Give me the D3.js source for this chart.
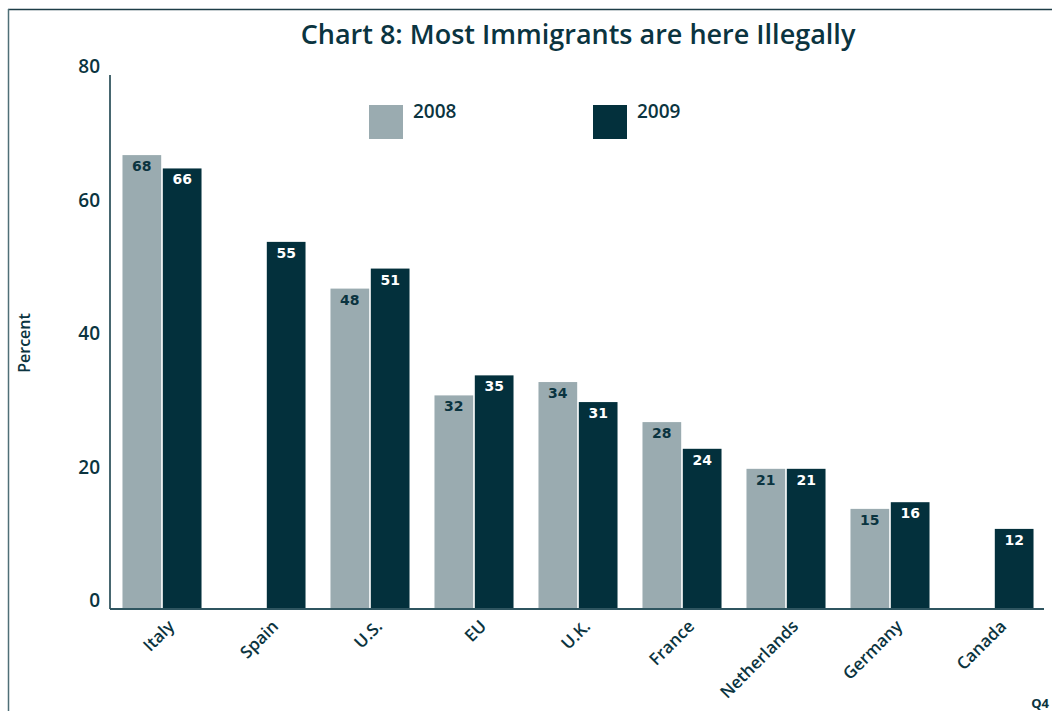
<!DOCTYPE html>
<html>
<head>
<meta charset="utf-8">
<script src="https://cdn.jsdelivr.net/npm/d3@7"></script>
<style>
  body { margin: 0; background: #fff; }
  text { font-family: "Open Sans", sans-serif; fill: #0b3440; }
</style>
</head>
<body>
<div id="chart-area"></div>
<script>
// chart data
const countries = ["Italy", "Spain", "U.S.", "EU", "U.K.", "France", "Netherlands", "Germany", "Canada"];
const years = ["2008", "2009"];
const values2008 = [68, null, 48, 32, 34, 28, 21, 15, null];
const values2009 = [66, 55, 51, 35, 31, 24, 21, 16, 12];
const yTicks = [0, 20, 40, 60, 80];

const colors = {"2008": "#9aabb0", "2009": "#03303c"};
const labelColors = {"2008": "#0b3440", "2009": "#ffffff"};

const W = 1052, H = 711;
const margin = {top: 75, right: 8, bottom: 102, left: 110};

const svg = d3.select("#chart-area").append("svg")
    .attr("width", W)
    .attr("height", H);

// frame lines (top and left)
svg.append("line")
    .attr("x1", 8).attr("x2", W).attr("y1", 9.5).attr("y2", 9.5)
    .attr("stroke", "#1d3d47").attr("stroke-width", 1.5);
svg.append("line")
    .attr("x1", 8.5).attr("x2", 8.5).attr("y1", 9).attr("y2", H)
    .attr("stroke", "#4f6f77").attr("stroke-width", 1.5);

svg.append("text")
    .attr("x", 578)
    .attr("y", 44)
    .attr("text-anchor", "middle")
    .style("font-size", "27px")
    .style("font-weight", 600)
    .text("Chart 8: Most Immigrants are here Illegally");

const g = svg.append("g")
    .attr("transform", "translate(" + margin.left + "," + margin.top + ")");

const width = 936, height = 534;

const x = d3.scaleBand()
    .domain(countries)
    .range([0, width])
    .paddingInner(0.24)
    .paddingOuter(0.12);

const xYear = d3.scaleBand()
    .domain(years)
    .range([0, x.bandwidth()])
    .paddingInner(0.04);

const y = d3.scaleLinear()
    .domain([0, 80])
    .range([height, 0]);

// rows for bars
const rows = [];
countries.forEach((c, i) => {
    rows.push({country: c, year: "2008", value: values2008[i]});
    rows.push({country: c, year: "2009", value: values2009[i]});
});
const bars = rows.filter(d => d.value !== null);

g.selectAll(".bar")
    .data(bars)
    .enter().append("rect")
    .attr("class", "bar")
    .attr("x", d => x(d.country) + xYear(d.year))
    .attr("y", d => y(d.value))
    .attr("width", xYear.bandwidth())
    .attr("height", d => height - y(d.value))
    .attr("fill", d => colors[d.year]);

g.selectAll(".bar-label")
    .data(bars)
    .enter().append("text")
    .attr("class", "bar-label")
    .attr("x", d => x(d.country) + xYear(d.year) + xYear.bandwidth() / 2)
    .attr("y", d => y(d.value) + 16)
    .attr("text-anchor", "middle")
    .style("font-size", "14px")
    .style("font-weight", 700)
    .style("font-family", "DejaVu Sans, sans-serif")
    .style("fill", d => labelColors[d.year])
    .text(d => d.value);

// axes
g.append("line")
    .attr("x1", 0).attr("x2", 0).attr("y1", 0).attr("y2", height)
    .attr("stroke", "#0b3440").attr("stroke-width", 1.5);
g.append("line")
    .attr("x1", 0).attr("x2", 934).attr("y1", height).attr("y2", height)
    .attr("stroke", "#2f5560").attr("stroke-width", 2);

g.selectAll(".y-tick")
    .data(yTicks)
    .enter().append("text")
    .attr("class", "y-tick")
    .attr("x", -10)
    .attr("y", d => y(d) - 2)
    .attr("text-anchor", "end")
    .style("font-size", "19px")
    .style("font-weight", 600)
    .text(d => d);

g.selectAll(".x-tick")
    .data(countries)
    .enter().append("text")
    .attr("class", "x-tick")
    .attr("transform", d => "translate(" + (x(d) + x.bandwidth() / 2 + 5) + "," + (height + 10) + ") rotate(-45)")
    .attr("text-anchor", "end")
    .attr("dy", "0.7em")
    .style("font-size", "17px")
    .style("font-weight", 600)
    .text(d => d);

svg.append("text")
    .attr("transform", "translate(30," + 343 + ") rotate(-90)")
    .attr("text-anchor", "middle")
    .style("font-size", "16px")
    .style("font-weight", 600)
    .text("Percent");

// legend
const legendX = {"2008": 369, "2009": 593};
years.forEach(yr => {
    svg.append("rect")
        .attr("x", legendX[yr]).attr("y", 105)
        .attr("width", 34).attr("height", 34)
        .attr("fill", colors[yr]);
    svg.append("text")
        .attr("x", legendX[yr] + 44).attr("y", 118)
        .style("font-size", "19px")
        .style("font-weight", 600)
        .text(yr);
});

svg.append("text")
    .attr("x", 1049).attr("y", 708)
    .attr("text-anchor", "end")
    .style("font-size", "13px")
    .style("font-weight", 700)
    .text("Q4");
</script>
</body>
</html>
